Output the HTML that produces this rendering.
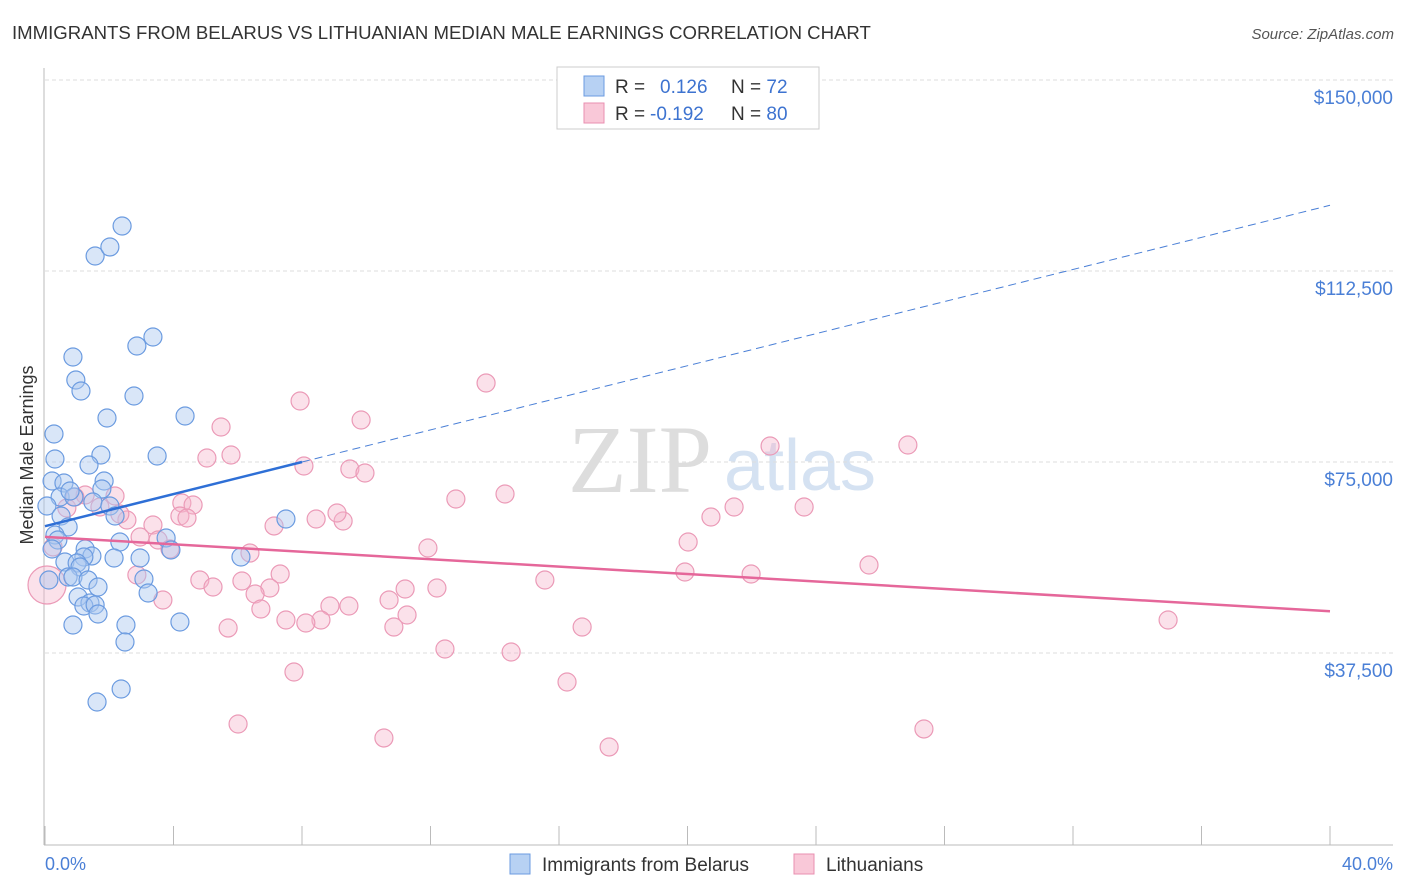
<!DOCTYPE html>
<html><head><meta charset="utf-8"><style>
body{margin:0;background:#fff;font-family:"Liberation Sans",sans-serif;}
svg{display:block}
</style></head><body>
<svg id="chart" width="1406" height="892" xmlns="http://www.w3.org/2000/svg">
<text x="12" y="39" font-size="18.6" fill="#333">IMMIGRANTS FROM BELARUS VS LITHUANIAN MEDIAN MALE EARNINGS CORRELATION CHART</text>
<text x="1394" y="39" font-size="15" fill="#555" font-style="italic" text-anchor="end">Source: ZipAtlas.com</text>
<text x="640" y="492" font-size="96" fill="#ddd" font-family="Liberation Serif,serif" text-anchor="middle">ZIP</text>
<text x="800" y="490" font-size="72" fill="#d5e2f2" text-anchor="middle">atlas</text>
<g id="grid"></g>
<line x1="44" y1="68" x2="44" y2="845" stroke="#bbb"/>
<line x1="44" y1="845" x2="1393" y2="845" stroke="#bbb"/>
<g id="ticks"></g>
<text x="33" y="455" font-size="18" fill="#333" text-anchor="middle" transform="rotate(-90 33 455)">Median Male Earnings</text>
<text x="45" y="870" font-size="18" fill="#4a7fd6">0.0%</text>
<text x="1393" y="870" font-size="18" fill="#4a7fd6" text-anchor="end">40.0%</text>
<g id="pinkpts"></g><g id="bluepts"></g><g id="trends"></g>
<g>
<rect x="557" y="67" width="262" height="62" fill="#fff" stroke="#ccc"/>
<rect x="584" y="76" width="20" height="20" fill="#b7d1f3" stroke="#6b9be0"/>
<rect x="584" y="103" width="20" height="20" fill="#f9c8d8" stroke="#e98fb0"/>
<text x="615" y="93" font-size="19" fill="#333">R = <tspan fill="#3d73d0" x="660">0.126</tspan><tspan x="731" fill="#333">N = </tspan><tspan fill="#3d73d0">72</tspan></text>
<text x="615" y="120" font-size="19" fill="#333">R = <tspan fill="#3d73d0" x="650">-0.192</tspan><tspan x="731" fill="#333">N = </tspan><tspan fill="#3d73d0">80</tspan></text>
</g>
<g>
<rect x="510" y="854" width="20" height="20" fill="#b7d1f3" stroke="#6b9be0"/>
<text x="542" y="871" font-size="19" fill="#333">Immigrants from Belarus</text>
<rect x="794" y="854" width="20" height="20" fill="#f9c8d8" stroke="#e98fb0"/>
<text x="826" y="871" font-size="19" fill="#333">Lithuanians</text>
</g>
</svg>
<script>
const yTicks=[37500,75000,112500,150000];
const yTickLabels=["$37,500","$75,000","$112,500","$150,000"];
const xTicks=[0,4,8,12,16,20,24,28,32,36,40];
const bluePx=[[122,226],[95,256],[110,247],[153,337],[137,346],[73,357],[76,380],[81,391],[134,396],[107,418],[185,416],[54,434],[157,456],[101,455],[55,459],[89,465],[52,481],[64,483],[104,481],[60,497],[74,497],[102,489],[70,491],[47,506],[93,502],[110,506],[61,516],[115,516],[286,519],[68,527],[55,535],[58,540],[120,542],[52,549],[166,538],[85,549],[171,550],[92,556],[84,557],[65,562],[114,558],[241,557],[140,558],[77,563],[80,567],[68,577],[73,577],[88,580],[144,579],[98,587],[148,593],[78,597],[90,603],[84,606],[95,605],[98,614],[180,622],[73,625],[126,625],[125,642],[121,689],[97,702],[49,580]];
const pinkPx=[[486,383],[300,401],[361,420],[221,427],[770,446],[908,445],[207,458],[231,455],[350,469],[365,473],[304,466],[456,499],[505,494],[734,507],[804,507],[711,517],[182,503],[193,505],[180,516],[187,518],[316,519],[343,521],[337,513],[274,526],[115,496],[85,495],[100,507],[127,520],[153,525],[140,537],[158,540],[170,549],[250,553],[428,548],[688,542],[280,574],[545,580],[685,572],[751,574],[869,565],[137,575],[200,580],[242,581],[213,587],[270,588],[255,594],[405,589],[437,588],[163,600],[389,600],[330,606],[349,606],[261,609],[407,615],[321,620],[286,620],[306,623],[228,628],[394,627],[582,627],[445,649],[511,652],[294,672],[567,682],[238,724],[384,738],[609,747],[924,729],[1168,620],[67,508],[75,497],[120,514],[53,547]];
// data values (x in %, y in $) derived from reading the picture
const blueX=bluePx.map(p=>+((p[0]-45)*40/1285).toFixed(2));
const blueY=bluePx.map(p=>Math.round((844-p[1])*37500/191));
const pinkX=pinkPx.map(p=>+((p[0]-45)*40/1285).toFixed(2));
const pinkY=pinkPx.map(p=>Math.round((844-p[1])*37500/191));
const blueTrend=[[0,62400],[40,125400]];
const pinkTrend=[[0,60300],[40,45700]];
const sx=v=>45+v/40*1285, sy=v=>844-v/37500*191;
const NS="http://www.w3.org/2000/svg";
function mk(tag,attrs,parent){const e=document.createElementNS(NS,tag);for(const k in attrs)e.setAttribute(k,attrs[k]);document.getElementById(parent).appendChild(e);return e;}
yTicks.forEach((t,i)=>{
 const l=mk('line',{x1:45,x2:1393,y1:sy(t),y2:sy(t),stroke:'#ddd','stroke-dasharray':'4 3'},'grid');
 
 
 const tx=mk('text',{x:1393,y:sy(t)+24,'font-size':19,fill:'#4a7fd6','text-anchor':'end'},'grid');tx.textContent=yTickLabels[i];
 
 
});
xTicks.forEach(t=>{
 const l=mk('line',{x1:sx(t),x2:sx(t),y1:826,y2:845,stroke:'#bbb'},'ticks');
 
 
});
pinkX.forEach((x,i)=>{
 const c=mk('circle',{cx:sx(x),cy:sy(pinkY[i]),r:9,fill:'rgba(246,180,202,0.4)',stroke:'#eb9ab7','stroke-width':1.2},'pinkpts');
 
 
});
const big=mk('circle',{cx:47,cy:585,r:19,fill:'rgba(246,180,202,0.4)',stroke:'#eb9ab7','stroke-width':1.2},'pinkpts');


blueX.forEach((x,i)=>{
 const c=mk('circle',{cx:sx(x),cy:sy(blueY[i]),r:9,fill:'rgba(170,200,240,0.45)',stroke:'#6b9be0','stroke-width':1.2},'bluepts');
 
 
});
const by=x=>blueTrend[0][1]+(blueTrend[1][1]-blueTrend[0][1])*x/40;
const s1=mk('line',{x1:sx(0),y1:sy(by(0)),x2:sx(8),y2:sy(by(8)),stroke:'#2e6fd6','stroke-width':2.5},'trends');


const s2=mk('line',{x1:sx(8),y1:sy(by(8)),x2:sx(40),y2:sy(by(40)),stroke:'#4a7fd6','stroke-width':1,'stroke-dasharray':'8 5'},'trends');


const s3=mk('line',{x1:sx(0),y1:sy(pinkTrend[0][1]),x2:sx(40),y2:sy(pinkTrend[1][1]),stroke:'#e5679a','stroke-width':2.5},'trends');


</script>
</body></html>
